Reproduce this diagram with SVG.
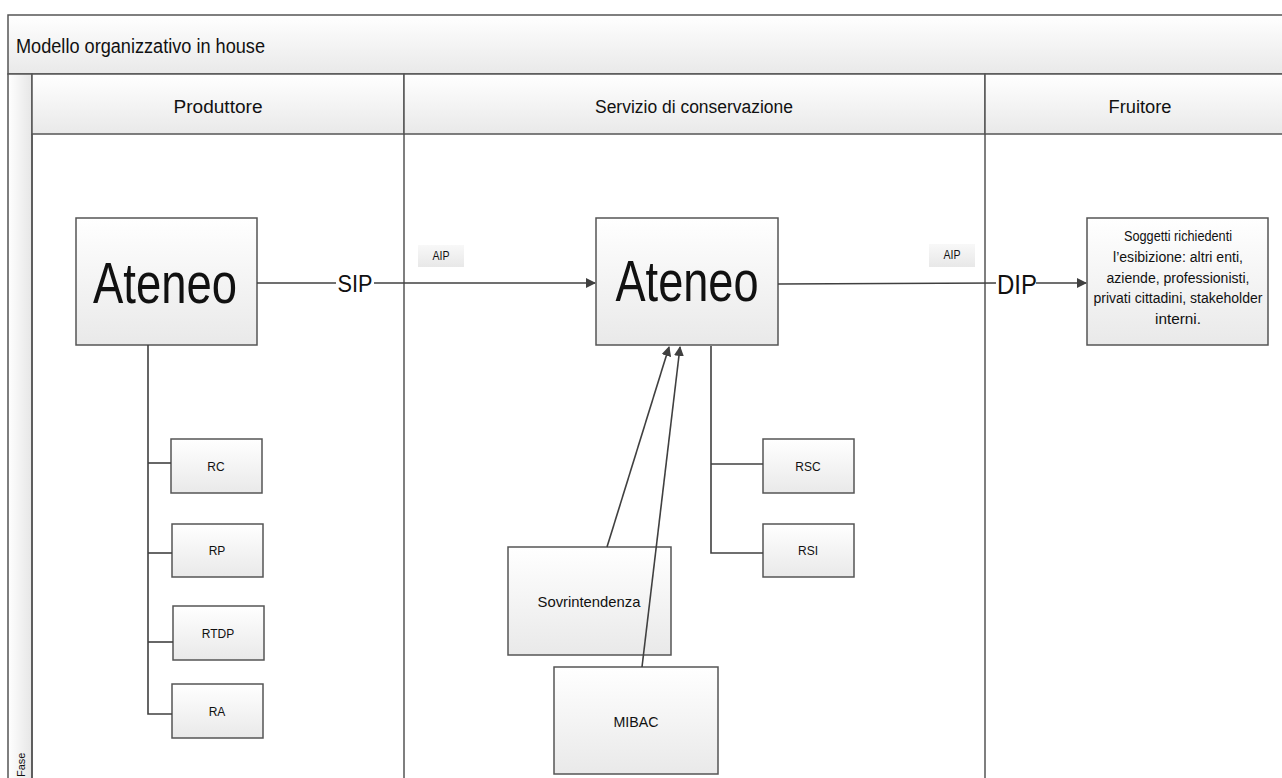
<svg xmlns="http://www.w3.org/2000/svg" width="1282" height="778" viewBox="0 0 1282 778">
<defs>
<linearGradient id="gv" x1="0" y1="0" x2="0" y2="1"><stop offset="0" stop-color="#ffffff"/><stop offset="1" stop-color="#e9e9e9"/></linearGradient>
<linearGradient id="gh" x1="0" y1="0" x2="1" y2="0"><stop offset="0" stop-color="#ffffff"/><stop offset="1" stop-color="#e6e6e6"/></linearGradient>
<linearGradient id="gl" x1="0" y1="0" x2="0" y2="1"><stop offset="0" stop-color="#f8f8f8"/><stop offset="1" stop-color="#e8e8e8"/></linearGradient>
<marker id="arr" viewBox="0 0 10 10" refX="9" refY="5" markerWidth="10" markerHeight="10" markerUnits="userSpaceOnUse" orient="auto"><path d="M0,0 L10,5 L0,10 z" fill="#404040"/></marker>
</defs>
<style>
.frame{fill:none;stroke:#555;stroke-width:1.5}
.band{fill:url(#gv);stroke:#555;stroke-width:1.5}
.box{fill:url(#gv);stroke:#555;stroke-width:1.5}
.lbl{fill:url(#gl);stroke:none}
.ln{fill:none;stroke:#404040;stroke-width:1.6}
.t{font-family:"Liberation Sans",Arial,sans-serif;fill:#111}
.c{text-anchor:middle}
</style>
<rect width="1282" height="778" fill="#ffffff"/>
<g id="pool">
<rect x="8" y="15" width="1290" height="59" class="band"/>
<text x="16" y="53" class="t" font-size="20" textLength="249" lengthAdjust="spacingAndGlyphs">Modello organizzativo in house</text>
<rect x="8" y="74" width="24" height="710" fill="url(#gh)" stroke="#555" stroke-width="1.5"/>
<text transform="translate(25,777) rotate(-90)" class="t" font-size="11" fill="#333">Fase</text>
</g>
<g id="lane-produttore">
<rect x="32" y="74" width="372" height="60" class="band"/>
<text x="218" y="113" class="t c" font-size="18" textLength="89" lengthAdjust="spacingAndGlyphs">Produttore</text>
<line x1="32" y1="134" x2="32" y2="778" class="frame"/>
</g>
<g id="lane-servizio">
<rect x="404" y="74" width="581" height="60" class="band"/>
<text x="694" y="113" class="t c" font-size="18" textLength="198" lengthAdjust="spacingAndGlyphs">Servizio di conservazione</text>
<line x1="404" y1="134" x2="404" y2="778" class="frame"/>
</g>
<g id="lane-fruitore">
<rect x="985" y="74" width="310" height="60" class="band"/>
<text x="1140" y="113" class="t c" font-size="18" textLength="63" lengthAdjust="spacingAndGlyphs">Fruitore</text>
<line x1="985" y1="134" x2="985" y2="778" class="frame"/>
</g>
<g id="aip-left">
<rect x="418" y="245" width="46" height="22" class="lbl"/>
<text x="441" y="260" class="t c" font-size="12" textLength="17" lengthAdjust="spacingAndGlyphs">AIP</text>
</g>
<g id="aip-right">
<rect x="929" y="244" width="46" height="23" class="lbl"/>
<text x="952" y="259" class="t c" font-size="12" textLength="17" lengthAdjust="spacingAndGlyphs">AIP</text>
</g>
<g id="ateneo-produttore">
<rect x="76" y="218" width="181" height="127" class="box"/>
<text x="165" y="303" class="t c" font-size="58" textLength="144" lengthAdjust="spacingAndGlyphs">Ateneo</text>
</g>
<g id="ateneo-servizio">
<rect x="596" y="218" width="182" height="127" class="box"/>
<text x="687" y="301" class="t c" font-size="58" textLength="143" lengthAdjust="spacingAndGlyphs">Ateneo</text>
</g>
<g id="fruitore-box">
<rect x="1087" y="218" width="181" height="127" class="box"/>
<g class="t c" font-size="14">
<text x="1178" y="241" textLength="108" lengthAdjust="spacingAndGlyphs">Soggetti richiedenti</text>
<text x="1178" y="262" textLength="130" lengthAdjust="spacingAndGlyphs">l’esibizione: altri enti,</text>
<text x="1178" y="283" textLength="143" lengthAdjust="spacingAndGlyphs">aziende, professionisti,</text>
<text x="1178" y="303" textLength="169" lengthAdjust="spacingAndGlyphs">privati cittadini, stakeholder</text>
<text x="1178" y="324" textLength="46" lengthAdjust="spacingAndGlyphs">interni.</text>
</g>
</g>
<g id="rc"><rect x="171" y="439" width="91" height="54" class="box"/><text x="216" y="471" class="t c" font-size="12">RC</text></g>
<g id="rp"><rect x="172" y="524" width="91" height="53" class="box"/><text x="217" y="555" class="t c" font-size="12">RP</text></g>
<g id="rtdp"><rect x="173" y="606" width="91" height="54" class="box"/><text x="218" y="638" class="t c" font-size="12">RTDP</text></g>
<g id="ra"><rect x="172" y="684" width="91" height="54" class="box"/><text x="217" y="716" class="t c" font-size="12">RA</text></g>
<g id="rsc"><rect x="763" y="439" width="91" height="54" class="box"/><text x="808" y="471" class="t c" font-size="12">RSC</text></g>
<g id="rsi"><rect x="763" y="524" width="91" height="53" class="box"/><text x="808" y="555" class="t c" font-size="12">RSI</text></g>
<g id="sovrintendenza"><rect x="508" y="547" width="163" height="108" class="box"/><text x="589" y="607" class="t c" font-size="15" textLength="103" lengthAdjust="spacingAndGlyphs">Sovrintendenza</text></g>
<g id="mibac"><rect x="554" y="667" width="164" height="107" class="box"/><text x="636" y="727" class="t c" font-size="15" textLength="45" lengthAdjust="spacingAndGlyphs">MIBAC</text></g>
<g id="connectors">
<line x1="257" y1="283" x2="336" y2="283" class="ln"/>
<line x1="374" y1="283" x2="595" y2="283" class="ln" marker-end="url(#arr)"/>
<line x1="778" y1="284" x2="996" y2="283" class="ln"/>
<line x1="1036" y1="283" x2="1086" y2="283" class="ln" marker-end="url(#arr)"/>
<polyline points="148,345 148,714 172,714" class="ln"/>
<line x1="148" y1="463" x2="171" y2="463" class="ln"/>
<line x1="148" y1="553" x2="172" y2="553" class="ln"/>
<line x1="148" y1="642" x2="173" y2="642" class="ln"/>
<polyline points="711,346 711,553 763,553" class="ln"/>
<line x1="711" y1="464" x2="763" y2="464" class="ln"/>
<line x1="607" y1="547" x2="669" y2="347" class="ln" marker-end="url(#arr)"/>
<line x1="642" y1="667" x2="680" y2="347" class="ln" marker-end="url(#arr)"/>
<text x="355" y="292" class="t c" font-size="23" textLength="35" lengthAdjust="spacingAndGlyphs">SIP</text>
<text x="1017" y="294" class="t c" font-size="27" textLength="40" lengthAdjust="spacingAndGlyphs">DIP</text>
</g>
</svg>
